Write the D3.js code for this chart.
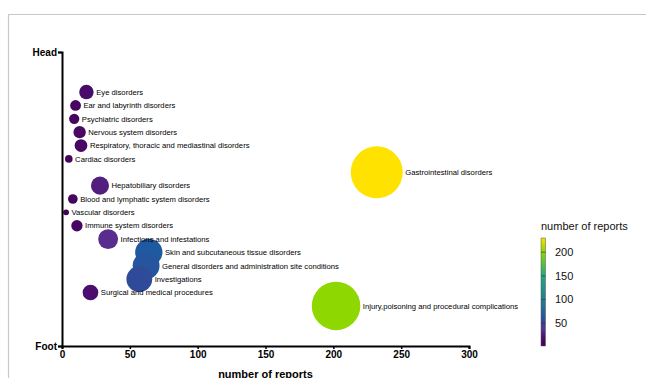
<!DOCTYPE html>
<html>
<head>
<meta charset="utf-8">
<script src="https://cdn.jsdelivr.net/npm/d3@7"></script>
<style>
  html, body { margin: 0; padding: 0; background: #fff; }
  svg { display: block; font-family: "Liberation Sans", Arial, sans-serif; }
</style>
</head>
<body>
<svg id="chart" width="646" height="378"></svg>
<script>
// System organ classes, ordered from head to foot
const categories = [
  "Eye disorders",
  "Ear and labyrinth disorders",
  "Psychiatric disorders",
  "Nervous system disorders",
  "Respiratory, thoracic and mediastinal disorders",
  "Cardiac disorders",
  "Gastrointestinal disorders",
  "Hepatobiliary disorders",
  "Blood and lymphatic system disorders",
  "Vascular disorders",
  "Immune system disorders",
  "Infections and infestations",
  "Skin and subcutaneous tissue disorders",
  "General disorders and administration site conditions",
  "Investigations",
  "Surgical and medical procedures",
  "Injury,poisoning and procedural complications"
];
// Number of reports per class
const reports = [18, 10, 9, 13, 14, 5, 232, 28, 8, 3, 11, 34, 64, 62, 57, 21, 202];

const xTicks = [0, 50, 100, 150, 200, 250, 300];
const legendTicks = [50, 100, 150, 200];
const colorStops = [0, 20, 35, 57, 64, 100, 150, 202, 232];
const colorRange = ["#440154", "#4a0c6b", "#5a2f8f", "#2f4a98", "#1f5aa0",
                    "#21808d", "#22a884", "#8fd700", "#ffe200"];

const svg = d3.select("#chart");

// page frame
svg.append("line").attr("x1", 8).attr("x2", 646).attr("y1", 14.5).attr("y2", 14.5)
  .attr("stroke", "#c8c8c8").attr("stroke-width", 1.2);
svg.append("line").attr("x1", 8.5).attr("x2", 8.5).attr("y1", 14).attr("y2", 378)
  .attr("stroke", "#c8c8c8").attr("stroke-width", 1.2);

const x = d3.scaleLinear().domain([0, 300]).range([62, 469]);
// rank 1..17, with room above (Head) and below (Foot)
const y = d3.scaleLinear().domain([-2, 20]).range([52, 346]);
const r = d3.scaleSqrt().domain([0, 232]).range([0, 26]);
const color = d3.scaleLinear().domain(colorStops).range(colorRange);

const data = categories.map((c, i) => ({ name: c, rank: i + 1, value: reports[i] }));

// bubbles
const g = svg.append("g");
g.selectAll("circle").data(data).join("circle")
  .attr("cx", d => x(d.value))
  .attr("cy", d => y(d.rank))
  .attr("r", d => r(d.value))
  .attr("fill", d => color(d.value));

g.selectAll("text").data(data).join("text")
  .attr("x", d => x(d.value) + r(d.value) + 2.5)
  .attr("y", d => y(d.rank))
  .attr("dy", "0.35em")
  .attr("font-size", 7.7)
  .attr("fill", "#000")
  .text(d => d.name);

// x axis
const xAxis = svg.append("g").attr("transform", "translate(0,346)")
  .call(d3.axisBottom(x).tickValues(xTicks).tickSize(3).tickPadding(2));
xAxis.select(".domain").attr("stroke", "#000").attr("stroke-width", 2);
xAxis.selectAll(".tick line").attr("stroke", "#000").attr("stroke-width", 1.5);
xAxis.selectAll(".tick text").attr("font-size", 10).attr("font-weight", "bold")
  .attr("font-family", "Liberation Sans, Arial, sans-serif").attr("fill", "#000");

// y axis with Head / Foot ends
const yAxis = svg.append("g").attr("transform", "translate(62,0)")
  .call(d3.axisLeft(y).tickValues([-2, 20]).tickSize(4).tickPadding(1)
    .tickFormat(v => v < 0 ? "Head" : "Foot"));
yAxis.select(".domain").attr("stroke", "#000").attr("stroke-width", 2);
yAxis.selectAll(".tick line").attr("stroke", "#000").attr("stroke-width", 1.5);
yAxis.selectAll(".tick text").attr("font-size", 10).attr("font-weight", "bold")
  .attr("font-family", "Liberation Sans, Arial, sans-serif").attr("fill", "#000");

svg.append("text")
  .attr("x", 265.5).attr("y", 377.5)
  .attr("text-anchor", "middle")
  .attr("font-size", 11).attr("font-weight", "bold")
  .text("number of reports");

// colour legend
const lg = svg.append("g");
const ly = d3.scaleLinear().domain([2, 230]).range([346, 238]);
const defs = svg.append("defs");
const grad = defs.append("linearGradient").attr("id", "cbar")
  .attr("x1", 0).attr("x2", 0).attr("y1", 1).attr("y2", 0);
d3.range(0, 1.0001, 0.05).forEach(t => {
  const v = 2 + t * 228;
  grad.append("stop").attr("offset", t).attr("stop-color", color(v));
});
lg.append("rect").attr("x", 541).attr("y", 238).attr("width", 4.5).attr("height", 108)
  .attr("fill", "url(#cbar)").attr("stroke", "#555").attr("stroke-width", 0.5);
lg.selectAll("line.lt").data(legendTicks).join("line").attr("class", "lt")
  .attr("x1", 541).attr("x2", 545.5)
  .attr("y1", d => ly(d)).attr("y2", d => ly(d))
  .attr("stroke", "#333").attr("stroke-width", 0.6);
lg.selectAll("text.lt").data(legendTicks).join("text").attr("class", "lt")
  .attr("x", 555).attr("y", d => ly(d)).attr("dy", "0.35em")
  .attr("font-size", 11).attr("fill", "#111")
  .text(d => d);
lg.append("text").attr("x", 541).attr("y", 229.5)
  .attr("font-size", 11).attr("fill", "#111")
  .text("number of reports");
</script>
</body>
</html>
